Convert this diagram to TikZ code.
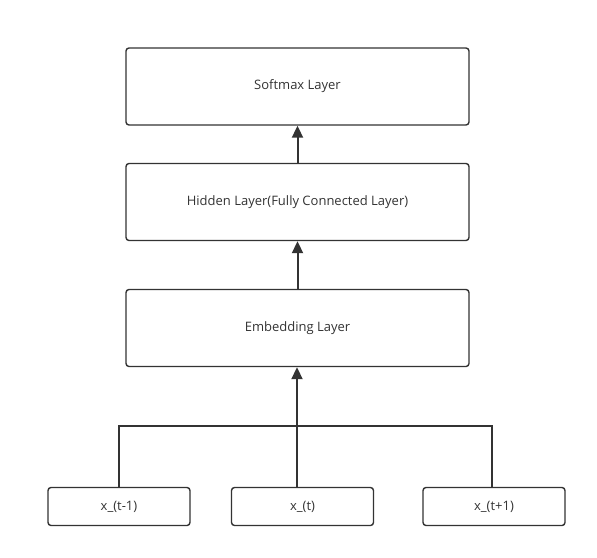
\documentclass[tikz,border=0pt]{standalone}
\usepackage{fontspec}
\setmainfont{Open Sans}
\usetikzlibrary{positioning,arrows.meta}

\begin{document}
\begin{tikzpicture}[x=1pt,y=1pt,node distance=100pt,on grid,
		layer/.style={draw=black!80,line width=1.4pt,rounded corners=3pt,minimum width=343pt,minimum height=77pt,font=\fontsize{13}{15}\selectfont,text=black!80},
		inbox/.style={draw=black!80,line width=1.4pt,rounded corners=3pt,minimum width=142pt,minimum height=38pt,font=\fontsize{13}{15}\selectfont,text=black!80},
		up/.style={-{Triangle[length=12pt,width=11pt]},draw=black!80,line width=2pt},
		joinline/.style={draw=black!80,line width=1.5pt}]
				\useasboundingbox (0,0) rectangle (597,-557);
				\node[layer] (softmax) at (297.5,-86.5) {Softmax Layer};
				\node[layer] (hidden) [below=115.5 of softmax] {Hidden Layer(Fully Connected Layer)};
				\node[layer] (embed) [below=126 of hidden] {Embedding Layer};
				\node[inbox] (xt) [below=178.5 of embed,xshift=5pt] {x\_(t)};
				\node[inbox] (xa) [left=183.5 of xt] {x\_(t-1)};
				\node[inbox] (xb) [right=191.5 of xt] {x\_(t+1)};
				\coordinate (m) at (297,-426);
				\coordinate (r) at (492,-426);
				\draw[up] (hidden) -- (softmax);
				\draw[up] (embed) -- (hidden);
				\draw[up] (m) -- (embed.south -| m);
				\draw[joinline] (xa.north) |- (m) -- (r) -- (r |- xb.north);
				\draw[joinline,line width=2pt] (xt.north -| m) -- (m);
			\end{tikzpicture}
\end{document}
